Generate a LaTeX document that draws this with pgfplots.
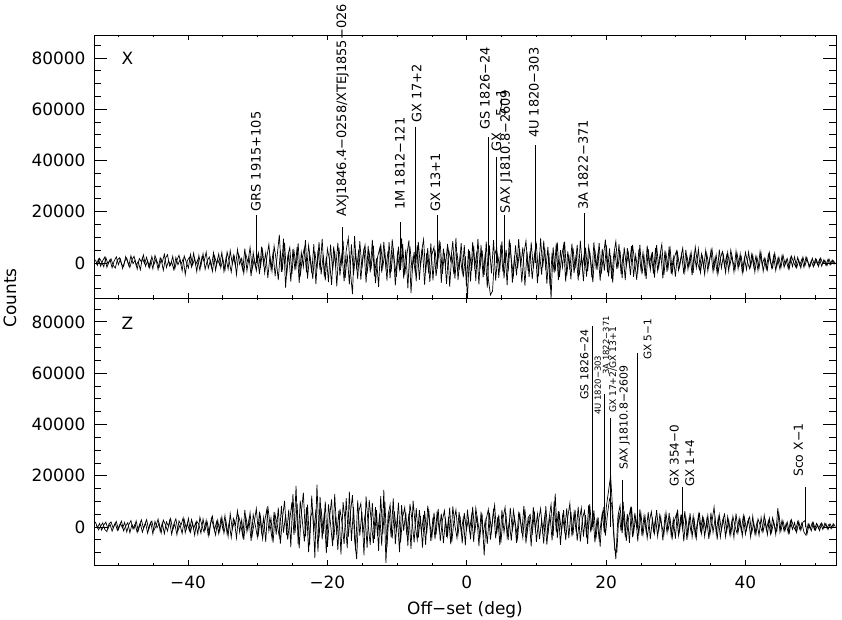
\documentclass[border=0pt]{standalone}
\usepackage{fontspec}
\setmainfont{DejaVu Sans}
\usepackage{pgfplots}
\usepackage{pgfplotstable}
\pgfplotsset{compat=1.18}

\pgfplotstableread{
x X Z
-53.3 1200 2000
-53.0 -900 -300
-52.7 1800 1400
-52.4 300 -1200
-52.1 -1500 800
-51.8 2100 1900
-51.5 -400 -700
-51.2 1300 1100
-50.9 -1900 -1600
-50.6 800 600
-50.3 2400 2200
-50.0 -700 -1000
-49.7 1500 1300
-49.4 -2200 -400
-49.1 600 1800
-48.8 1900 -1900
-48.5 -1100 900
-48.2 2800 2500
-47.9 -300 -800
-47.6 1000 1200
-47.3 -2400 -2100
-47.0 1700 700
-46.7 400 2800
-46.4 3100 -500
-46.1 -1300 1500
-45.8 900 -2400
-45.5 -2000 1000
-45.2 2500 2300
-44.9 -600 -1300
-44.6 1400 400
-44.3 -2600 3100
-44.0 2000 -1700
-43.7 300 1600
-43.4 3400 -2600
-43.1 -1800 2000
-42.8 700 300
-42.5 -900 3300
-42.2 2600 -1100
-41.9 -2300 1200
-41.6 1100 -3000
-41.3 3000 2400
-41.0 -500 800
-40.7 1600 3600
-40.4 -4500 -2200
-40.1 900 1400
-39.8 2200 -1500
-39.5 -1600 2900
-39.2 3800 -600
-38.9 -700 1700
-38.6 1300 -2800
-38.3 -2800 3800
-38.0 2400 500
-37.7 500 -1900
-37.4 4200 2600
-37.1 -2100 -3400
-36.8 1000 1100
-36.5 -3300 4200
-36.2 2700 -1200
-35.9 -400 2100
-35.6 3500 -2500
-35.3 -1900 3000
-35.0 1600 -800
-34.7 -2800 4500
-34.4 4300 -2600
-34.1 600 1700
-33.8 -3600 -4100
-33.5 2900 3300
-33.2 -1200 700
-32.9 5200 6300
-32.6 -500 -2000
-32.3 1800 2800
-32.0 -4100 -5000
-31.7 3300 3900
-31.4 200 -800
-31.1 6100 5600
-30.8 -2500 -3300
-30.5 1400 1900
-30.2 -3000 7200
-29.9 3800 -2700
-29.6 -1700 4100
-29.3 5000 -4600
-29.0 -3900 2300
-28.7 2200 6800
-28.4 7200 -1500
-28.1 -2200 3600
-27.8 4000 -6100
-27.5 -5200 4800
-27.2 3000 900
-26.9 11000 -3800
-26.6 -3500 8200
-26.3 9500 -2200
-26.0 -9600 5000
-25.7 2600 -4900
-25.4 6000 2700
-25.1 -4400 9600
-24.8 4800 -3000
-24.5 -1600 16000
-24.2 7600 -6800
-23.9 -5300 10300
-23.6 2100 2400
-23.3 5900 -5600
-23.0 -3700 7700
-22.7 6800 -9800
-22.4 800 4100
-22.1 -6200 6300
-21.8 4400 -12000
-21.5 -2400 16500
-21.2 8100 -4200
-20.9 -4500 7300
-20.6 3200 -2600
-20.3 -6800 9900
-20.0 5500 -7700
-19.7 1200 3600
-19.4 -8600 10800
-19.1 6400 -5200
-18.8 -1800 4400
-18.5 7800 -8900
-18.2 -5000 7000
-17.9 3600 1500
-17.6 -7200 -6600
-17.3 4900 11300
-17.0 9800 -3800
-16.7 -3300 5500
-16.4 -12200 12400
-16.1 10500 -4700
-15.8 -2600 -12500
-15.5 5300 6000
-15.2 -6500 9200
-14.9 2800 -2500
-14.6 7000 4900
-14.3 -4200 -8100
-14.0 3900 10600
-13.7 -1500 2000
-13.4 6700 -6300
-13.1 -7900 7800
-12.8 2300 -3500
-12.5 5600 5200
-12.2 -3800 -7200
-11.9 8200 14500
-11.6 -2000 -14000
-11.3 4600 4300
-11.0 -6000 8700
-10.7 9200 -4400
-10.4 1100 6200
-10.1 -5400 -1700
-9.8 6300 9500
-9.5 -2700 -6000
-9.2 7400 3900
-8.9 -4800 7600
-8.6 3000 -3200
-8.3 8800 5300
-8.0 -11800 -8500
-7.7 2500 10200
-7.4 -3400 800
-7.1 6900 -5000
-6.8 -6600 6700
-6.5 4100 -2300
-6.2 9100 4700
-5.9 -3900 -6900
-5.6 5800 8300
-5.3 -7400 1200
-5.0 3300 -4000
-4.7 6200 5600
-4.4 -5100 -2900
-4.1 2000 7100
-3.8 7300 -5500
-3.5 -4300 2600
-3.2 3700 6400
-2.9 -8200 -3800
-2.6 5100 4000
-2.3 900 -6700
-2.0 8500 8000
-1.7 -6100 600
-1.4 4000 -4300
-1.1 -2900 5900
-0.8 7700 -2000
-0.5 -5600 3500
-0.2 2600 -7100
0.1 -14000 6800
0.4 4700 -1400
0.7 -3100 4600
1.0 6600 -5900
1.3 -7000 7400
1.6 9400 1900
1.9 -2300 -3600
2.2 5000 5200
2.5 -4700 -11000
2.8 8300 3100
3.1 -6400 6900
3.4 -12500 -4900
3.7 -11000 2800
4.0 2900 8600
4.3 6000 -2700
4.6 -5800 4800
4.9 7100 -6100
5.2 -3600 3300
5.5 4400 7700
5.8 -8700 -3900
6.1 9200 2100
6.4 1300 -5300
6.7 -4900 6500
7.0 6800 900
7.3 -2100 -4500
7.6 5400 5700
7.9 -7600 -2400
8.2 3400 8200
8.5 8600 -6400
8.8 -3000 3600
9.1 4600 4900
9.4 -6300 -3000
9.7 2700 6100
10.0 7300 -5800
10.3 -5200 2500
10.6 9600 7200
10.9 -1800 -1900
11.2 5900 4400
11.5 -8100 -6800
11.8 3800 3000
12.1 -14000 8800
12.4 6100 -3400
12.7 -3300 13000
13.0 8000 -4200
13.3 -5500 5000
13.6 2200 -2200
13.9 6900 6600
14.2 -7300 -5100
14.5 4500 3800
14.8 -2600 9200
15.1 7500 -3600
15.4 -4000 5500
15.7 3100 -1800
16.0 -6800 7900
16.3 8700 -5700
16.6 -1500 3200
16.9 4200 6300
17.2 -5300 -4100
17.5 6400 8500
17.8 900 -2100
18.1 -7500 5200
18.4 5100 -6000
18.7 -2800 3400
19.0 7800 -4700
19.3 -4400 2600
19.6 2400 7000
19.9 9100 -3300
20.2 -3700 5000
20.5 5700 11000
20.8 -6200 9000
21.1 3300 -3500
21.4 8400 -12500
21.7 -2000 4200
22.0 4900 8400
22.3 -5900 -2400
22.6 6100 6100
22.9 -1200 -5400
23.2 3800 3000
23.5 -4800 7200
23.8 7000 -3900
24.1 600 4800
24.4 -6600 1200
24.7 5200 -2500
25.0 -2500 5300
25.3 4100 -2800
25.6 -5100 3900
25.9 6700 -4400
26.2 -900 2100
26.5 3200 6000
26.8 -4200 -1600
27.1 5900 3500
27.4 -3100 -3700
27.7 2600 4700
28.0 7300 500
28.3 -4700 -2900
28.6 3600 5600
28.9 -1900 -1200
29.2 5300 3000
29.5 -3800 -4100
29.8 2100 2400
30.1 4600 5100
30.4 -2900 -3300
30.7 1500 4000
31.0 5800 -1000
31.3 -3400 6200
31.6 2700 -5000
31.9 -1200 2900
32.2 4200 -2000
32.5 -3900 4300
32.8 6200 -3500
33.1 400 1800
33.4 -2600 5200
33.7 3500 -2600
34.0 -1700 3300
34.3 4900 -1500
34.6 -3100 4600
34.9 2000 -3000
35.2 5500 2200
35.5 -2200 7800
35.8 3100 -2300
36.1 -3600 3700
36.4 1800 -4000
36.7 4400 2500
37.0 -1400 5000
37.3 2900 -1800
37.6 -3200 2800
37.9 5000 -3100
38.2 700 4200
38.5 -2700 300
38.8 3700 -2500
39.1 -1000 3500
39.4 2400 -1400
39.7 -3000 4400
40.0 4100 -2800
40.3 300 2000
40.6 -2200 3900
40.9 3300 -2200
41.2 -1600 1500
41.5 2600 -3000
41.8 -2900 3200
42.1 4500 800
42.4 -800 -1900
42.7 1900 4600
43.0 -2400 -1100
43.3 3400 2400
43.6 200 -2600
43.9 -2000 3600
44.2 3800 200
44.5 -1300 -1700
44.8 2300 5200
45.1 -1800 -1500
45.4 3000 2300
45.7 -600 -1200
46.0 1700 1900
46.3 -2100 -2200
46.6 2600 2800
46.9 400 200
47.2 -1500 -1400
47.5 2200 2100
47.8 -900 -800
48.1 1500 1600
48.4 -1700 -2000
48.7 2400 -3200
49.0 100 1300
49.3 -1200 -700
49.6 1800 1800
49.9 -800 -1100
50.2 1300 1400
50.5 -1400 -600
50.8 1900 1200
51.1 -300 -900
51.4 1000 1500
51.7 -1100 -400
52.0 1500 1100
52.3 -500 -700
52.6 900 1300
52.9 -200 200
}\noisetab

\pgfplotstableread{
x X Z
-53.15 -600 900
-52.85 1500 -1100
-52.55 -1300 300
-52.25 900 1600
-51.95 2300 -900
-51.65 -1700 -1800
-51.35 400 1200
-51.05 1600 2000
-50.75 -900 -400
-50.45 -2000 1500
-50.15 1100 -1300
-49.85 2000 700
-49.55 -500 2300
-49.25 -1400 -1500
-48.95 2500 400
-48.65 200 1700
-48.35 -1800 -2200
-48.05 1200 1000
-47.75 2600 -600
-47.45 -900 2400
-47.15 600 -1400
-46.85 -2700 1300
-46.55 1900 -2000
-46.25 -300 600
-45.95 2200 2900
-45.65 -1500 -1000
-45.35 1000 1800
-45.05 -2300 -2700
-44.75 2900 2200
-44.45 500 -300
-44.15 -1600 1400
-43.85 1400 -2300
-43.55 -2900 2700
-43.25 1800 900
-42.95 3200 -1600
-42.65 -1200 2500
-42.35 400 -2900
-42.05 -2600 1100
-41.75 2100 3200
-41.45 -700 -1400
-41.15 1300 800
-40.85 -3100 -2500
-40.55 2700 2800
-40.25 300 -700
-39.95 -2000 3400
-39.65 3300 -2000
-39.35 -800 1600
-39.05 1700 -3200
-38.75 -3400 2300
-38.45 2900 1000
-38.15 -1100 -2400
-37.85 3600 3100
-37.55 -2500 -1100
-37.25 800 1900
-36.95 2300 -2700
-36.65 -1700 3500
-36.35 3900 200
-36.05 -2900 -3100
-35.75 1400 2600
-35.45 -900 -1700
-35.15 4100 3900
-34.85 -3300 -2400
-34.55 2000 2100
-34.25 -2400 -3700
-33.95 4800 5200
-33.65 -400 -900
-33.35 2500 2400
-33.05 -4600 -4300
-32.75 3400 4400
-32.45 1000 1300
-32.15 -2700 -3600
-31.85 5600 6700
-31.55 -3100 -1800
-31.25 2300 3000
-30.95 -5100 -5400
-30.65 4000 4800
-30.35 -1400 800
-30.05 2700 -3900
-29.75 -4400 6000
-29.45 6300 -2200
-29.15 -800 3700
-28.85 3900 -5800
-28.55 -5800 8100
-28.25 2600 1200
-27.95 -3300 -4400
-27.65 6600 5900
-27.35 1100 -2900
-27.05 -6700 7600
-26.75 4600 -6500
-26.45 -2200 3300
-26.15 7800 10200
-25.85 -5000 -3100
-25.55 3800 6800
-25.25 -7300 -7800
-24.95 5400 12800
-24.65 -2900 -2400
-24.35 6200 9100
-24.05 -7800 -8300
-23.75 4100 5400
-23.45 -1500 13400
-23.15 8900 -3600
-22.85 -6100 8700
-22.55 3000 -7000
-22.25 -4000 12200
-21.95 7300 -1900
-21.65 -8300 6900
-21.35 5000 -9600
-21.05 -2600 11800
-20.75 9400 -4800
-20.45 -5300 5600
-20.15 2500 -10200
-19.85 -7500 8800
-19.55 7100 1300
-19.25 -3000 -7400
-18.95 4800 12900
-18.65 -9200 -3000
-18.35 6000 6400
-18.05 -1300 -10700
-17.75 8700 9700
-17.45 -5900 2200
-17.15 3300 -8200
-16.85 -8400 13800
-16.55 7200 -5400
-16.25 -4700 7900
-15.95 4000 -9100
-15.65 -6300 10400
-15.35 8500 -3300
-15.05 -2100 5800
-14.75 5700 -11000
-14.45 -7700 11900
-14.15 6600 900
-13.85 -3700 -6900
-13.55 9000 9400
-13.25 -5200 -4600
-12.95 1800 6600
-12.65 -9400 -9300
-12.35 7500 12000
-12.05 -1700 -2800
-11.75 4200 9800
-11.45 -6900 -7900
-11.15 8100 6100
-10.85 -3400 -4000
-10.55 5800 11200
-10.25 -8800 -6700
-9.95 3600 4100
-9.65 -2400 -9800
-9.35 9600 8500
-9.05 -6100 -1500
-8.75 5200 5900
-8.45 -9900 -7300
-8.15 6400 9000
-7.85 -2800 2600
-7.55 4300 -6000
-7.25 -7100 7400
-6.95 8200 -4100
-6.65 -1600 4300
-6.35 5500 -8000
-6.05 -8500 6300
-5.75 3900 -2600
-5.45 -4200 7000
-5.15 7600 -5500
-4.85 -6800 3700
-4.55 4900 -4700
-4.25 -2300 6100
-3.95 8800 -1500
-3.65 -7800 5200
-3.35 5600 -6300
-3.05 -1000 3000
-2.75 7400 -3400
-2.45 -9300 7600
-2.15 3500 -5900
-1.85 -4400 2200
-1.55 9700 6700
-1.25 -6700 -2800
-0.95 2900 4100
-0.65 -3600 -6400
-0.35 6900 5500
-0.05 -9000 -1100
0.25 5300 3300
0.55 -7200 -4800
0.85 8100 7900
1.15 -1900 -2300
1.45 4500 4500
1.75 -8400 -7400
2.05 7000 6000
2.35 -5600 -3200
2.65 3600 2500
2.95 -9600 -6600
3.25 6800 5600
3.55 -4100 -1700
3.85 8900 7200
4.15 -6900 -4400
4.45 3100 3900
4.75 -2600 -7000
5.05 8400 6600
5.35 -6000 -2100
5.65 5100 4300
5.95 -3300 -5000
6.25 7800 7500
6.55 -7700 -1200
6.85 2800 3700
7.15 -4900 -6200
7.45 9300 5300
7.75 -1400 1500
8.05 6100 -4200
8.35 -8900 6900
8.65 4300 -2900
8.95 -5500 4000
9.25 8000 -7500
9.55 -2000 7800
9.85 5600 -1300
10.15 -7900 5100
10.45 3700 -4700
10.75 -4600 2800
11.05 8700 -6500
11.35 -2900 8100
11.65 6300 -3100
11.95 -9100 4600
12.25 4000 -5200
12.55 -3800 10100
12.85 7600 -2000
13.15 -6700 6200
13.45 5000 -6900
13.75 -1700 4300
14.05 8300 -1600
14.35 -5100 7300
14.65 3200 -4300
14.95 -6400 5900
15.25 5900 -3000
15.55 -2200 6700
15.85 7000 -5300
16.15 -4900 2400
16.45 2600 7400
16.75 -7100 -3700
17.05 6000 4600
17.35 -3200 -6600
17.65 4700 8900
17.95 -5600 -1200
18.25 8000 6500
18.55 -1600 -4500
18.85 3900 3900
19.15 -6900 -7600
19.45 5500 5800
19.75 -3000 -2200
20.05 6800 8200
20.35 -5200 14000
20.65 2900 20000
20.95 -7700 6300
21.25 4800 -8800
21.55 -2400 -9700
21.85 7300 5700
22.15 -4300 -1600
22.45 3400 9800
22.75 -6700 -4000
23.05 5800 5100
23.35 -1000 -6200
23.65 6500 7900
23.95 -5400 -2300
24.25 3000 4100
24.55 -3400 -5600
24.85 7100 6900
25.15 -4500 -3400
25.45 2400 4500
25.75 -6200 -1800
26.05 5400 5900
26.35 -2700 -4700
26.65 4300 3200
26.95 -5700 -2500
27.25 6900 6600
27.55 -1800 -1400
27.85 3700 3900
28.15 -6000 -5200
28.45 4900 4400
28.75 -3500 -2200
29.05 6400 5500
29.35 -4400 -3600
29.65 2200 3100
29.95 -5300 -4500
30.25 4000 6800
30.55 -1600 -1700
30.85 3300 4900
31.15 -4300 -5600
31.45 5100 3800
31.75 -2500 -2900
32.05 2900 5400
32.35 -4800 -3900
32.65 3800 2700
32.95 -1900 -4300
33.25 5400 4800
33.55 -3700 -1400
33.85 2300 3900
34.15 -4500 -3700
34.45 3600 2900
34.75 -1300 -4600
35.05 4700 5600
35.35 -3400 -2100
35.65 2100 3400
35.95 -4200 -4900
36.25 5200 4700
36.55 -2000 -1300
36.85 3000 3100
37.15 -3800 -3800
37.45 4100 4000
37.75 -1200 -2700
38.05 2700 2300
38.35 -3500 -4100
38.65 4600 5300
38.95 -2300 -1900
39.25 3500 2600
39.55 -3900 -3500
39.85 2000 3800
40.15 -2600 -1100
40.45 4200 2900
40.75 -1500 -3900
41.05 3100 4200
41.35 -3600 -2400
41.65 2300 1700
41.95 -2100 -3300
42.25 3600 3700
42.55 -3300 -1600
42.85 1400 2500
43.15 -2700 -3000
43.45 3900 3400
43.75 -1800 -2100
44.05 2700 2200
44.35 -3000 -2900
44.65 1600 7400
44.95 -2400 -1900
45.25 2800 2600
45.55 -1700 -1700
45.85 1200 1400
46.15 -2300 -2400
46.45 2000 2300
46.75 -1400 -900
47.05 2400 1700
47.35 -1900 -2100
47.65 1100 2200
47.95 -2000 -1300
48.25 2300 1900
48.55 -1000 2500
48.85 1700 -2600
49.15 -1800 1000
49.45 900 -1500
49.75 -1500 1700
50.05 1600 -1200
50.35 -700 900
50.65 1400 -1400
50.95 -1300 1600
51.25 1200 -500
51.55 -900 1300
51.85 1400 -1000
52.15 -800 1200
52.45 1100 -300
52.75 -600 900
}\noisetabb

\tikzset{
  lab/.style={rotate=90, anchor=west, inner sep=0pt, font=\fontsize{#1}{#1}\selectfont},
}
\pgfplotsset{
  base/.style={
    scale only axis, width=742bp,
    xmin=-53.5, xmax=53,
    tick align=inside,
    every tick/.style={black,line width=0.8bp},
    axis line style={line width=0.8bp},
    tick label style={font=\fontsize{17}{20}\selectfont},
    label style={font=\fontsize{17}{20}\selectfont},
    scaled y ticks=false,
    clip mode=individual,
  },
  yaxisp/.style={
    base,
    xtick=\empty, minor xtick={},
    ytick={0,20000,40000,60000,80000},
    yticklabels={0,20000,40000,60000,80000},
    yticklabel style={xshift=-5bp},
    minor ytick={-10000,-5000,...,85000},
    major tick length=13bp, minor tick length=7bp,
  },
  xaxisp/.style={
    base,
    ytick=\empty, minor ytick={},
    xtick={-40,-20,0,20,40},
    minor xtick={-50,-45,...,50},
    xticklabel style={yshift=-7bp},
    major tick length=5bp, minor tick length=2.5bp,
  },
  sig/.style={black, line width=0.7bp, mark=none},
  pk/.style={black, line width=0.8bp, ycomb, mark=none},
}

\begin{document}
\begin{tikzpicture}
\path[use as bounding box] (-94bp,-55bp) rectangle (748bp,565bp);

% upper panel (X)
\begin{axis}[xaxisp, at={(0,267bp)}, anchor=south west, height=263bp,
  ymin=-13700, ymax=89000, xticklabels={}]
\end{axis}
\begin{axis}[yaxisp, at={(0,267bp)}, anchor=south west, height=263bp,
  ymin=-13700, ymax=89000]
\addplot[sig] table[x=x,y=X]{\noisetab};
\addplot[sig] table[x=x,y=X]{\noisetabb};
\addplot[pk] coordinates {(-30.25,18700) (-17.85,14200) (-9.46,16100) (-7.4,53200) (-4.2,18700) (3.06,49300) (4.25,41500) (5.45,18700) (9.9,46000) (16.9,19500)};
\node[font=\fontsize{17}{20}\selectfont] at (axis cs:-48.7,80000) {X};
\node[lab=13] at (axis cs:-30.25,20000) {GRS 1915+105};
\node[lab=13] at (axis cs:-17.8,18100) {AXJ1846.4−0258/XTEJ1855−026};
\node[lab=13] at (axis cs:-9.6,20700) {1M 1812−121};
\node[lab=13] at (axis cs:-7.2,54700) {GX 17+2};
\node[lab=13] at (axis cs:-4.5,20000) {GX 13+1};
\node[lab=13] at (axis cs:2.6,51900) {GS 1826−24};
\node[lab=13] at (axis cs:4.25,43400) {GX};
\node[lab=13] at (axis cs:4.9,56900) {5−1};
\node[lab=13] at (axis cs:5.7,19400) {SAX J1810.8−2609};
\node[lab=13] at (axis cs:9.65,48700) {4U 1820−303};
\node[lab=13] at (axis cs:16.7,20700) {3A 1822−371};
\end{axis}

% lower panel (Z)
\begin{axis}[xaxisp, at={(0,0)}, anchor=south west, height=267bp,
  ymin=-14800, ymax=89300,
  xticklabels={−40,−20,0,20,40},
  xlabel={Off−set (deg)},
  xlabel style={yshift=-6bp}]
\end{axis}
\begin{axis}[yaxisp, at={(0,0)}, anchor=south west, height=267bp,
  ymin=-14800, ymax=89300]
\addplot[sig] table[x=x,y=Z]{\noisetab};
\addplot[sig] table[x=x,y=Z]{\noisetabb};
\addplot[pk] coordinates {(18.0,78200) (19.7,52000) (20.65,42500) (22.3,18300) (24.5,68000) (31.0,15600) (48.55,15700)};
\node[font=\fontsize{17}{20}\selectfont] at (axis cs:-48.7,79600) {Z};
\node[lab=11] at (axis cs:16.9,49600) {GS 1826−24};
\node[lab=8.5] at (axis cs:18.8,43700) {4U 1820−303};
\node[lab=8.5] at (axis cs:20.0,59300) {3A 1822−371};
\node[lab=9.2] at (axis cs:21.0,44400) {GX 17+2/GX 13+1};
\node[lab=11] at (axis cs:22.65,22200) {SAX J1810.8−2609};
\node[lab=10.5] at (axis cs:25.95,65200) {GX 5−1};
\node[lab=12] at (axis cs:29.8,15700) {GX 354−0};
\node[lab=12] at (axis cs:32.0,15700) {GX 1+4};
\node[lab=12.5] at (axis cs:47.6,19500) {Sco X−1};
\end{axis}

\node[rotate=90, font=\fontsize{17}{20}\selectfont] at (-84bp,267bp) {Counts};
\end{tikzpicture}
\end{document}
